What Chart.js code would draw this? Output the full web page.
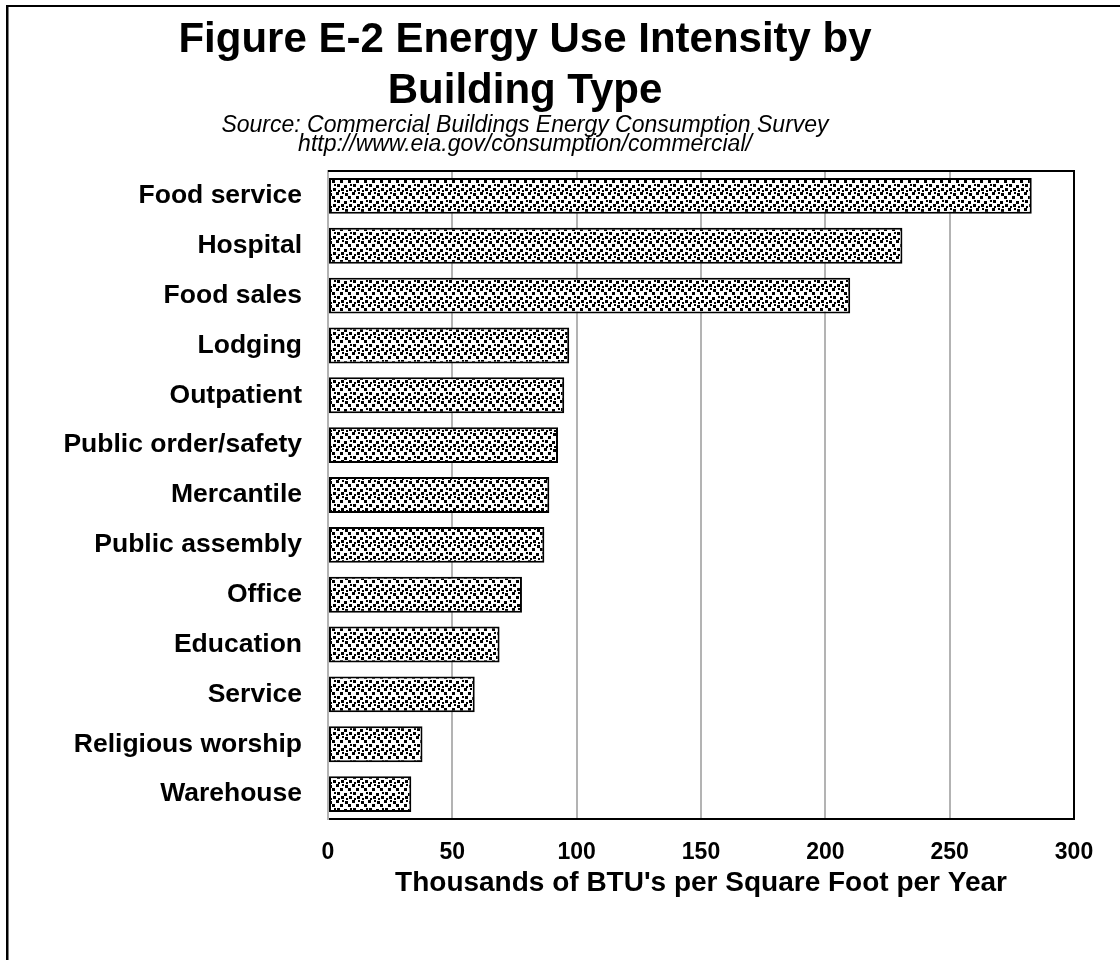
<!DOCTYPE html>
<html>
<head>
<meta charset="utf-8">
<script src="https://cdn.jsdelivr.net/npm/chart.js@4/dist/chart.umd.min.js"></script>
<style>
  html, body { margin: 0; padding: 0; background: #fff; }
  #wrap { width: 1120px; height: 960px; }
</style>
</head>
<body>
<div id="wrap"><canvas id="chart" width="1120" height="960"></canvas></div>
<script>
"use strict";

// ── DATA ────────────────────────────────────
const categories = [
  "Food service", "Hospital", "Food sales", "Lodging", "Outpatient",
  "Public order/safety", "Mercantile", "Public assembly", "Office",
  "Education", "Service", "Religious worship", "Warehouse"
];
const euiValues  = [283, 231, 210, 97, 95, 92.5, 89, 87, 78, 69, 59, 38, 33.5];
const xTickMin   = 0;
const xTickMax   = 300;
const xTickStep  = 50;
const titleLines  = ["Figure E-2 Energy Use Intensity by", "Building Type"];
const sourceLines = ["Source: Commercial Buildings Energy Consumption Survey",
                     "http://www.eia.gov/consumption/commercial/"];
const xAxisTitle  = "Thousands of BTU's per Square Foot per Year";

// ── STYLE ───────────────────────────────────
const FONT   = "'Liberation Sans', Arial, sans-serif";
const GRID   = "#b3b3b3";
const PLOT   = { left: 328, right: 1074, top: 171, bottom: 819 };

// confetti-like fill for the bars
function makeConfetti() {
  const c = document.createElement("canvas");
  c.width = 16; c.height = 16;
  const g = c.getContext("2d");
  g.fillStyle = "#fff";
  g.fillRect(0, 0, 16, 16);
  g.fillStyle = "#000";
  [[0, 0], [9, 1], [4, 4], [12, 4], [1, 8], [8, 9], [5, 12], [13, 12]]
    .forEach(([x, y]) => g.fillRect(x, y, 3, 3));
  [[6, 0], [14, 8], [10, 14], [2, 14]]
    .forEach(([x, y]) => g.fillRect(x, y, 2, 2));
  return c;
}

const ctx0     = document.getElementById("chart").getContext("2d");
const confetti = ctx0.createPattern(makeConfetti(), "repeat");

/* plot frame (top/right black) + outer figure frame + titles */
const framePlugin = {
  id: "frame",
  afterDatasetsDraw(chart) {
    const { ctx, chartArea: a } = chart;
    ctx.save();
    ctx.strokeStyle = "#000";
    ctx.lineWidth = 2;
    ctx.beginPath();
    ctx.moveTo(a.left, a.top);
    ctx.lineTo(a.right, a.top);
    ctx.lineTo(a.right, a.bottom);
    ctx.stroke();
    ctx.restore();
  },
  afterDraw(chart) {
    const ctx = chart.ctx;
    ctx.save();
    ctx.fillStyle = "#000";
    ctx.fillRect(6, 5, 2.5, 960);
    ctx.fillRect(6, 5, 1120, 2);

    ctx.textAlign = "center";
    ctx.textBaseline = "alphabetic";
    ctx.font = "bold 42px " + FONT;
    ctx.fillText(titleLines[0], 525, 52);
    ctx.fillText(titleLines[1], 525, 103);
    ctx.font = "italic 23px " + FONT;
    ctx.fillText(sourceLines[0], 525, 132);
    ctx.fillText(sourceLines[1], 525, 151);
    ctx.restore();
  }
};

new Chart(ctx0, {
  type: "bar",
  data: {
    labels: categories,
    datasets: [{
      data: euiValues,
      backgroundColor: confetti,
      borderColor: "#000",
      borderWidth: 2,
      borderSkipped: false,
      barPercentage: 0.72,
      categoryPercentage: 1
    }]
  },
  options: {
    indexAxis: "y",
    responsive: false,
    animation: false,
    devicePixelRatio: 1,
    layout: { padding: { top: PLOT.top, right: 1120 - PLOT.right, left: 0, bottom: 0 } },
    plugins: {
      legend: { display: false },
      tooltip: { enabled: false }
    },
    scales: {
      x: {
        min: xTickMin, max: xTickMax,
        ticks: {
          stepSize: xTickStep,
          color: "#000",
          font: { family: FONT, size: 23, weight: "bold" },
          padding: 20,
          maxRotation: 0
        },
        grid: { color: GRID, lineWidth: 2, drawTicks: false },
        border: { color: "#000", width: 2 },
        title: {
          display: true,
          text: xAxisTitle,
          color: "#000",
          font: { family: FONT, size: 28, weight: "bold" },
          padding: { top: 0, bottom: 60 }
        },
        afterFit(scale) { scale.height = 960 - PLOT.bottom; }
      },
      y: {
        ticks: {
          color: "#000",
          font: { family: FONT, size: 26.5, weight: "bold" },
          padding: 26
        },
        grid: { display: false, drawTicks: false },
        border: { color: GRID, width: 2 },
        afterFit(scale) { scale.width = PLOT.left; }
      }
    }
  },
  plugins: [framePlugin]
});
</script>
</body>
</html>
